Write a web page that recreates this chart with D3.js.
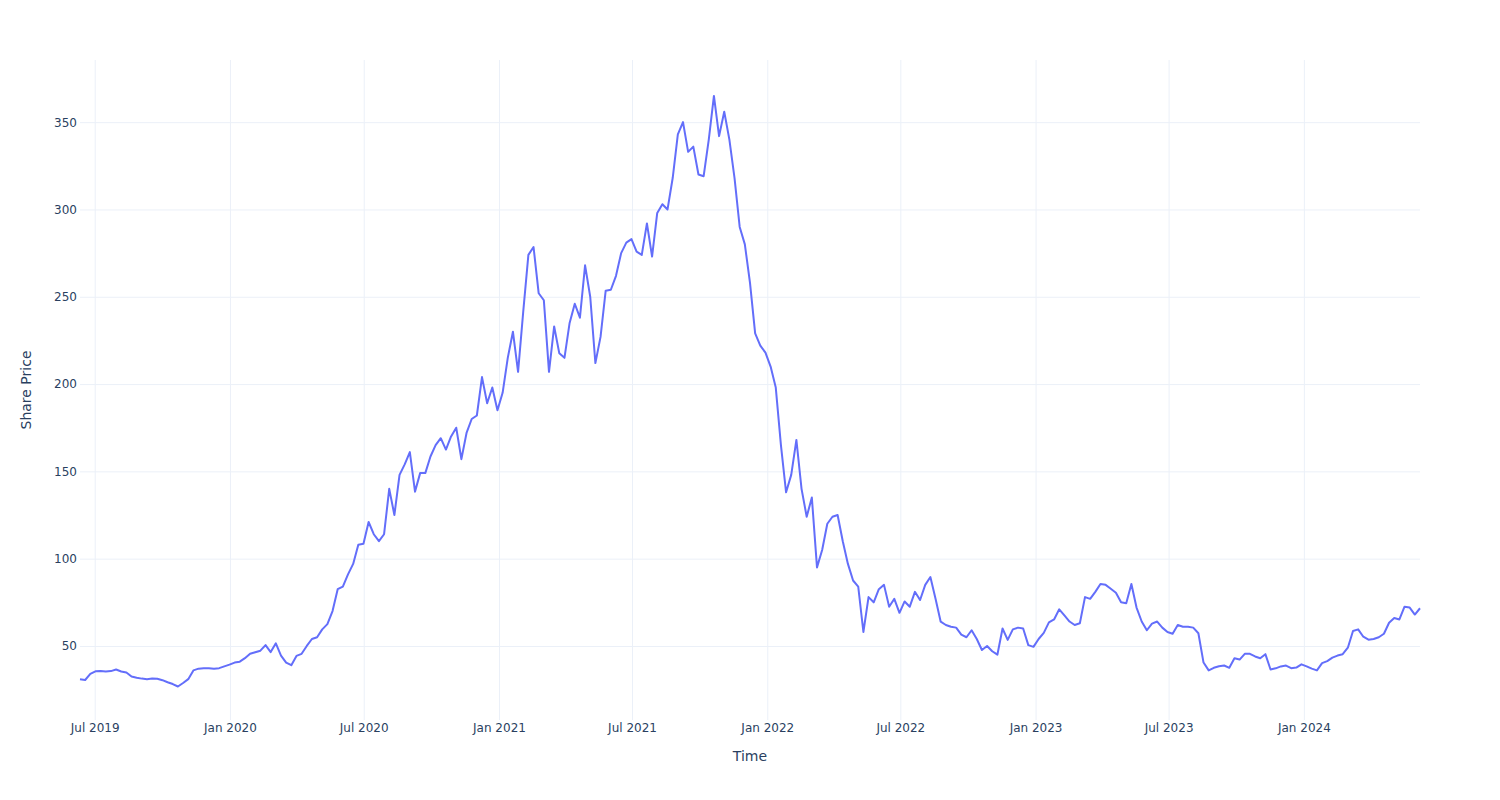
<!DOCTYPE html>
<html><head><meta charset="utf-8">
<script src="https://cdn.jsdelivr.net/npm/d3@7"></script>
<style>body{margin:0;background:#fff}</style>
</head><body>
<svg id="chart" width="1500" height="800"></svg>
<script>
// ---- data (evenly spaced ~weekly readings from first to last trading day) ----
const startDate = "2019-06-11";
const endDate = "2024-06-07";
const prices = [
 30.9,30.5,34,35.5,35.7,35.4,35.6,36.5,35.4,34.8,
 32.5,31.8,31.3,31,31.3,31.2,30.4,29.2,28.2,26.8,
 28.8,31,36,37,37.2,37.3,37,37.3,38.3,39.3,
 40.5,41,43,45.5,46.4,47.3,50.5,46.5,51.5,44.5,
 40.5,39,44.3,45.5,50,54,55,59.5,62.5,70,
 82.5,84,91,97,108,108.5,121,114,110,114,
 140,125,148,154,161,138.4,149,149,158.5,165,
 169,162.5,170,175,157,172,180,182,204,189,
 198,185,195,215,230,207,241.5,274,278.5,252,
 248,207,233,217.6,215,235,246,238,268,250,
 212,227,253.5,254,262,275,281,283,275.8,274,
 292,273,298,303,300,318,343,350,333,336,
 320,319,340,365,342,356,340,318,290,280,
 258,229,222,218,210,198,165,138,148,168,
 140,124,135,95,105,120,124,125,110,97,
 87.5,84,58,78,75,82.5,85,72.5,77,69,
 75.5,72.5,81,76.3,85,89.5,77,63.9,62,61,
 60.5,56.5,55,59,54,47.7,50,47,45,60,
 53.5,59.5,60.5,60,50.5,49.5,54,57.5,63.5,65.2,
 71,67.5,64,62,63,78,77,81,85.5,85,
 82.8,80.5,75,74.5,85.5,72,64,59,62.8,64,
 60.5,58,57,62,61,61,60.5,57.3,40.5,36,
 37.5,38.4,38.8,37.5,43,42.2,45.5,45.5,44,43,
 45.3,36.5,37.2,38.3,38.8,37.3,37.6,39.5,38.3,37,
 36,40.2,41.3,43.3,44.5,45.3,49,58.6,59.5,55.3,
 53.6,54,55,57,63.3,66,65.2,72.5,72,68,
 71.6
];
const yTicks = [50, 100, 150, 200, 250, 300, 350];
const xTickDates = ["2019-07-01","2020-01-01","2020-07-01","2021-01-01","2021-07-01",
  "2022-01-01","2022-07-01","2023-01-01","2023-07-01","2024-01-01"];
const yRange = [7.6, 385.6];
const xTitle = "Time";
const yTitle = "Share Price";

// ---- build ----
const parse = d3.utcParse("%Y-%m-%d");
const t0 = parse(startDate), t1 = parse(endDate);
const n = prices.length;
const data = prices.map((v, i) => ({date: new Date(+t0 + (t1 - t0) * i / (n - 1)), value: v}));

const W = 1500, H = 800;
const m = {l: 80, r: 80, t: 60, b: 80};
const svg = d3.select("#chart");
const font = "'DejaVu Sans', Verdana, sans-serif";
const txt = "#2a3f5f", grid = "#ebf0f8";

const x = d3.scaleUtc().domain(d3.extent(data, d => d.date)).range([m.l, W - m.r]);
const y = d3.scaleLinear().domain(yRange).range([H - m.b, m.t]);

svg.append("rect").attr("width", W).attr("height", H).attr("fill", "#fff");

const xt = xTickDates.map(parse);
// grids
svg.append("g").attr("transform", `translate(0,${H - m.b})`)
  .call(d3.axisBottom(x).tickValues(xt).tickSize(-(H - m.t - m.b)).tickFormat(""))
  .call(g => g.select(".domain").remove())
  .call(g => g.selectAll("line").attr("stroke", grid).attr("stroke-width", 1));
svg.append("g").attr("transform", `translate(${m.l},0)`)
  .call(d3.axisLeft(y).tickValues(yTicks).tickSize(-(W - m.l - m.r)).tickFormat(""))
  .call(g => g.select(".domain").remove())
  .call(g => g.selectAll("line").attr("stroke", grid).attr("stroke-width", 1));

// tick labels
svg.append("g").attr("transform", `translate(0,${H - m.b})`)
  .call(d3.axisBottom(x).tickValues(xt).tickSize(0).tickPadding(3).tickFormat(d3.utcFormat("%b %Y")))
  .call(g => g.select(".domain").remove())
  .call(g => g.selectAll("text").attr("fill", txt).style("font-family", font).style("font-size", "12px"));
svg.append("g").attr("transform", `translate(${m.l},0)`)
  .call(d3.axisLeft(y).tickValues(yTicks).tickSize(0).tickPadding(3))
  .call(g => g.select(".domain").remove())
  .call(g => g.selectAll("text").attr("fill", txt).style("font-family", font).style("font-size", "12px"));

// line
svg.append("path").datum(data)
  .attr("fill", "none").attr("stroke", "#636efa").attr("stroke-width", 2)
  .attr("stroke-linejoin", "round")
  .attr("d", d3.line().x(d => x(d.date)).y(d => y(d.value)));

// titles
svg.append("text").attr("x", m.l + (W - m.l - m.r) / 2).attr("y", 761)
  .attr("text-anchor", "middle").attr("fill", txt)
  .style("font-family", font).style("font-size", "14px").text(xTitle);
svg.append("text").attr("transform", `translate(31,${m.t + (H - m.t - m.b) / 2}) rotate(-90)`)
  .attr("text-anchor", "middle").attr("fill", txt)
  .style("font-family", font).style("font-size", "14px").text(yTitle);
</script>
</body></html>
